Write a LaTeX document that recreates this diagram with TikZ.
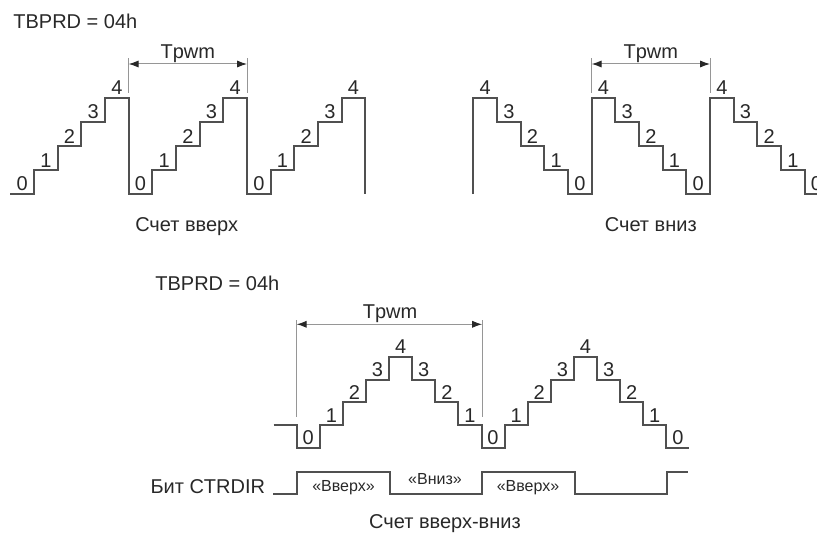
\documentclass[tikz,border=0pt]{standalone}
\usepackage{fontspec}
\setmainfont{Liberation Sans}
\usetikzlibrary{arrows.meta}

\definecolor{stairgray}{RGB}{80,80,80}
\definecolor{dimgray}{RGB}{150,150,150}
\definecolor{inkgray}{RGB}{40,40,40}

\begin{document}
\begin{tikzpicture}[x=0.5pt,y=-0.5pt,
  stair/.style={draw=stairgray, line width=1pt},
  dimline/.style={draw=dimgray, line width=0.5pt},
  dimarrow/.style={draw=dimgray, line width=0.5pt,
    {Latex[length=5pt,width=3.6pt,color=inkgray]}-{Latex[length=5pt,width=3.6pt,color=inkgray]}},
  lvl/.style={anchor=south, inner sep=1.3pt, font=\fontsize{10}{11}\selectfont, text=inkgray},
  lbl/.style={inner sep=0pt, font=\fontsize{10}{12}\selectfont, text=inkgray},
  dirlbl/.style={inner sep=0pt, font=\fontsize{8}{10}\selectfont, text=inkgray}]
  \useasboundingbox (0,0) rectangle (817,535);
  \clip (0,0) rectangle (817,535);

  % count up
  \node[lbl, anchor=base west] (prdtop) at (13,29) {TBPRD = 04h};
  \draw[stair] (10.33,194) \foreach \r in {0,1,2} {
    \foreach \j in {1,...,4} { -- ++(23.67,0) -- ++(0,-24) } -- ++(23.67,0) -- ++(0,96) };
  \foreach \r in {0,1,2}
    \foreach \j in {0,...,4}
      \node[lvl] (up-\r-\j) at ({22.17+118.33*\r+23.67*\j},{194-24*\j}) {\j};
  \node[lbl, anchor=base] (capup) at (186.7,231.7) {Счет вверх};

  % count down
  \draw[stair] (473.33,194) \foreach \r in {0,1,2} {
    -- ++(0,-96) \foreach \j in {1,...,4} { -- ++(23.67,0) -- ++(0,24) } -- ++(23.67,0) };
  \foreach \r in {0,1,2}
    \foreach \k in {0,...,4} {
      \pgfmathtruncatemacro\cnt{4-\k}
      \node[lvl] (dn-\r-\k) at ({485.17+118.33*\r+23.67*\k},{98+24*\k}) {\cnt};
    }
  \node[lbl, anchor=base] (capdn) at (650.8,231.7) {Счет вниз};

  % Tpwm marks, top row
  \coordinate (ta1) at (128.67,58.5);  \coordinate (tb1) at (128.67,92.7);
  \coordinate (ta2) at (247,58.5);     \coordinate (tb2) at (247,92.7);
  \coordinate (ta3) at (591.67,58.5);  \coordinate (tb3) at (591.67,92.7);
  \coordinate (ta4) at (710,58.5);     \coordinate (tb4) at (710,92.7);
  \foreach \n in {1,...,4} \draw[dimline] (ta\n) -- (tb\n);
  \coordinate (pa1) at (128.67,64); \coordinate (pb1) at (247,64);
  \coordinate (pa2) at (591.67,64); \coordinate (pb2) at (710,64);
  \draw[dimarrow] (pa1) -- (pb1);
  \draw[dimarrow] (pa2) -- (pb2);
  \node[lbl, anchor=base] (tpwm1) at (187.8,58.3) {Tpwm};
  \node[lbl, anchor=base] (tpwm2) at (650.8,58.3) {Tpwm};

  % count up-down
  \node[lbl, anchor=base west] (prdbot) at (155,290.7) {TBPRD = 04h};
  \draw[stair] (273.6,425) -- ++(23.1,0) -- ++(0,22.75) \foreach \r in {0,1} {
    \foreach \j in {1,...,4} { -- ++(23.1,0) -- ++(0,-22.75) }
    \foreach \j in {1,...,4} { -- ++(23.1,0) -- ++(0,22.75) } } -- ++(23.1,0);
  \foreach \v [count=\i from 0] in {0,1,2,3,4,3,2,1,0,1,2,3,4,3,2,1,0}
    \node[lvl] (ud-\i) at ({308.25+23.1*\i},{447.75-22.75*\v}) {\v};

  \coordinate (ta5) at (296.7,320);  \coordinate (tb5) at (296.7,416.7);
  \coordinate (ta6) at (482.1,320);  \coordinate (tb6) at (482.1,416.7);
  \draw[dimline] (ta5) -- (tb5);
  \draw[dimline] (ta6) -- (tb6);
  \coordinate (pa3) at (296.7,324.3); \coordinate (pb3) at (482.1,324.3);
  \draw[dimarrow] (pa3) -- (pb3);
  \node[lbl, anchor=base] (tpwm3) at (390,318.3) {Tpwm};

  % CTRDIR bit
  \node[lbl, anchor=base east] (ctrdir) at (265.5,493.3) {Бит CTRDIR};
  \draw[stair] (273.3,493.7) -- (296.7,493.7) -- (296.7,471.5) -- (389.7,471.5)
    -- (389.7,493.7) -- (482.1,493.7) -- (482.1,471.5) -- (574.5,471.5)
    -- (574.5,493.7) -- (666.9,493.7) -- (666.9,471.5) -- (688,471.5);
  \node[dirlbl, anchor=base] (dirup1) at (343.5,491) {«Вверх»};
  \node[dirlbl, anchor=base] (dirdn) at (435,484) {«Вниз»};
  \node[dirlbl, anchor=base] (dirup2) at (528,491) {«Вверх»};
  \node[lbl, anchor=base] (capud) at (445,528) {Счет вверх-вниз};
\end{tikzpicture}
\end{document}
